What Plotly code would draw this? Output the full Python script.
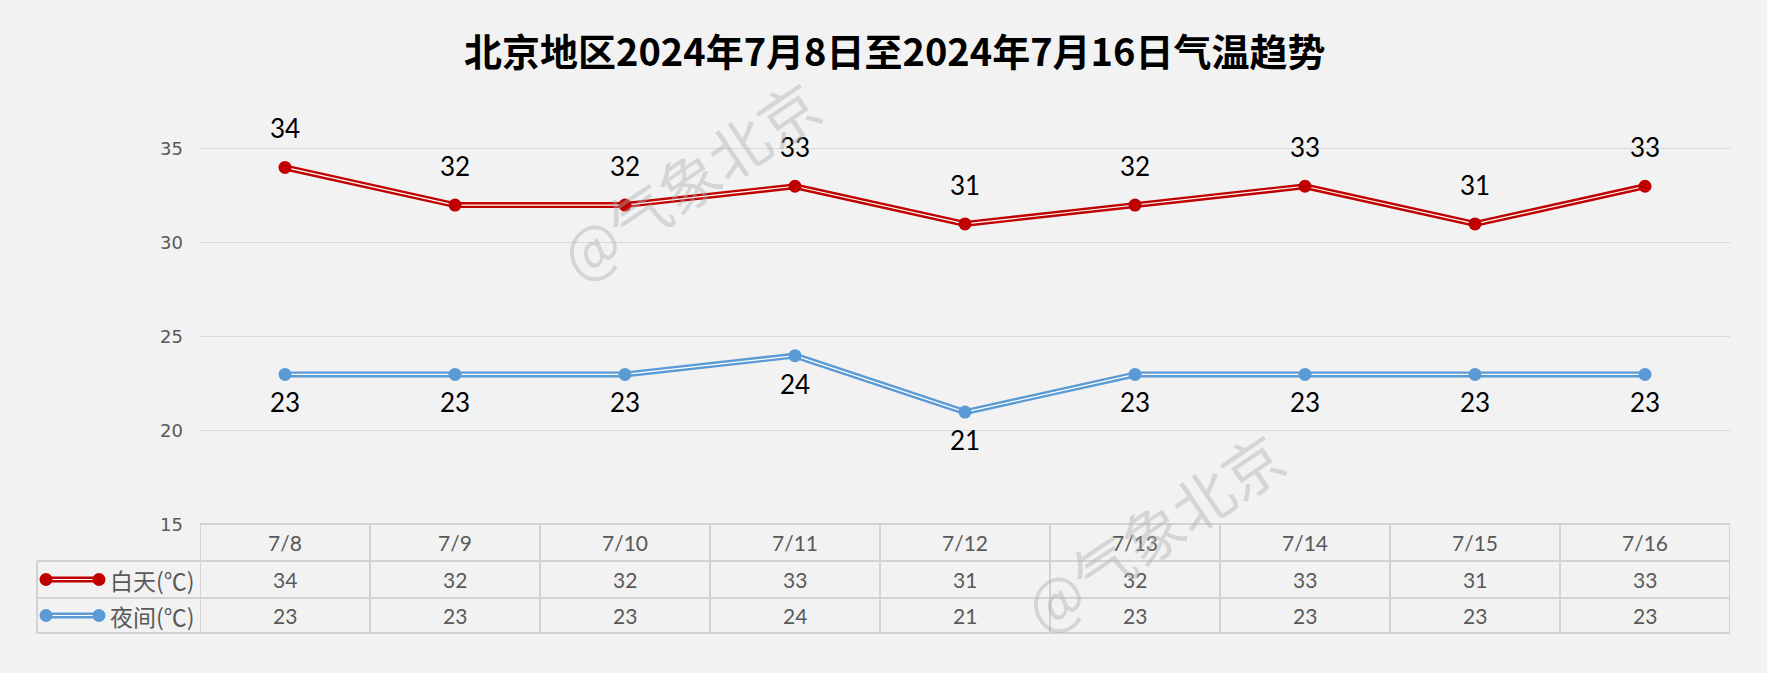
import plotly.graph_objects as go

categories = ["7/8", "7/9", "7/10", "7/11", "7/12", "7/13", "7/14", "7/15", "7/16"]
day_temps = [34, 32, 32, 33, 31, 32, 33, 31, 33]
night_temps = [23, 23, 23, 24, 21, 23, 23, 23, 23]
series_names = ["白天(℃)", "夜间(℃)"]
y_ticks = [15, 20, 25, 30, 35]
title_text = "北京地区2024年7月8日至2024年7月16日气温趋势"
watermark = "@气象北京"

RED = "#C00000"
BLUE = "#5B9BD5"
GRID = "#D9D9D9"
TBL = "#D3D3D3"
TXT = "#595959"
BG = "#F2F2F2"

W, H = 1767, 673
ML, MR, MT, MB = 200, 37, 111, 148
PW = W - ML - MR
PH = H - MT - MB

def px_x(p):
    return (p - ML) / PW

def px_y(p):
    return (H - MB - p) / PH

xs = list(range(len(categories)))
fig = go.Figure()

for vals, col in [(day_temps, RED), (night_temps, BLUE)]:
    fig.add_trace(go.Scatter(x=xs, y=vals, mode="lines",
                             line=dict(color=col, width=6), hoverinfo="skip", showlegend=False))
    fig.add_trace(go.Scatter(x=xs, y=vals, mode="lines",
                             line=dict(color="white", width=1.2), hoverinfo="skip", showlegend=False))
    fig.add_trace(go.Scatter(x=xs, y=vals, mode="markers",
                             marker=dict(color=col, size=13), showlegend=False))

ann = []
lfont = dict(size=26, color="black", family="Lato, Noto Sans CJK SC")
for i, v in enumerate(day_temps):
    ann.append(dict(x=i, y=v, xref="x", yref="y", text=str(v), showarrow=False,
                    yshift=39, yanchor="middle", font=lfont))
for i, v in enumerate(night_temps):
    ann.append(dict(x=i, y=v, xref="x", yref="y", text=str(v), showarrow=False,
                    yshift=-28, yanchor="middle", font=lfont))

# table rows (pixel positions)
row_top, row1, row2, row_bot = 524, 561, 598, 633
row_centers = [(row_top + row1) / 2, (row1 + row2) / 2, (row2 + row_bot) / 2]
tfont = dict(size=21, color=TXT, family="Lato, Noto Sans CJK SC")
for i, c in enumerate(categories):
    ann.append(dict(x=i, y=px_y(row_centers[0]), xref="x", yref="paper", text=c, showarrow=False,
                    yanchor="middle", font=tfont))
    ann.append(dict(x=i, y=px_y(row_centers[1]), xref="x", yref="paper", text=str(day_temps[i]), showarrow=False,
                    yanchor="middle", font=tfont))
    ann.append(dict(x=i, y=px_y(row_centers[2]), xref="x", yref="paper", text=str(night_temps[i]), showarrow=False,
                    yanchor="middle", font=tfont))

for k, name in enumerate(series_names):
    ann.append(dict(x=px_x(197), y=px_y(row_centers[k + 1]), xref="paper", yref="paper", text=name,
                    showarrow=False, xanchor="right", yanchor="middle",
                    font=dict(size=23, color=TXT, family="Noto Sans CJK SC")))

# watermarks
for (cx, cy) in [(688, 178), (1152, 530)]:
    ann.append(dict(x=px_x(cx), y=px_y(cy), xref="paper", yref="paper", text=watermark, showarrow=False,
                    textangle=-34, xanchor="center", yanchor="middle",
                    font=dict(size=60, color="rgba(175,175,175,0.42)", family="Noto Sans CJK SC")))

ann.append(dict(x=px_x(894), y=px_y(49), xref="paper", yref="paper", text="<b>" + title_text + "</b>",
                showarrow=False, xanchor="center", yanchor="middle",
                font=dict(size=38, color="black", family="Noto Sans CJK SC")))

shapes = []
# horizontal table lines
shapes.append(dict(type="line", xref="paper", yref="paper", x0=0, x1=1, y0=px_y(row_top), y1=px_y(row_top),
                   line=dict(color=TBL, width=2)))
for r in [row1, row2, row_bot]:
    shapes.append(dict(type="line", xref="paper", yref="paper", x0=px_x(37), x1=1, y0=px_y(r), y1=px_y(r),
                       line=dict(color=TBL, width=2)))
# vertical table lines
for i in range(len(categories) + 1):
    shapes.append(dict(type="line", xref="x", yref="paper", x0=i - 0.5, x1=i - 0.5,
                       y0=px_y(row_top), y1=px_y(row_bot), line=dict(color=TBL, width=2)))
shapes.append(dict(type="line", xref="paper", yref="paper", x0=px_x(37), x1=px_x(37),
                   y0=px_y(row1), y1=px_y(row_bot), line=dict(color=TBL, width=2)))

# legend samples
for k, col in enumerate([RED, BLUE]):
    yc = px_y(row_centers[k + 1])
    shapes.append(dict(type="line", xref="paper", yref="paper", x0=px_x(46), x1=px_x(99), y0=yc, y1=yc,
                       line=dict(color=col, width=6)))
    shapes.append(dict(type="line", xref="paper", yref="paper", x0=px_x(46), x1=px_x(99), y0=yc, y1=yc,
                       line=dict(color="white", width=1.2)))
    for xp in [46, 99]:
        shapes.append(dict(type="circle", xref="paper", yref="paper", xsizemode="pixel", ysizemode="pixel",
                           xanchor=px_x(xp), yanchor=yc, x0=-6.5, x1=6.5, y0=-6.5, y1=6.5,
                           fillcolor=col, line=dict(color=col, width=0)))

fig.update_layout(
    width=W, height=H,
    margin=dict(l=ML, r=MR, t=MT, b=MB, autoexpand=False),
    paper_bgcolor=BG, plot_bgcolor=BG,
    annotations=ann, shapes=shapes,
    showlegend=False,
    xaxis=dict(range=[-0.5, len(categories) - 0.5], showticklabels=False, showgrid=False,
               zeroline=False, showline=False, fixedrange=True),
    yaxis=dict(range=[15, 37], tickvals=y_ticks, showgrid=True, gridcolor=GRID, gridwidth=1.3,
               zeroline=False, showline=False, ticks="", ticklabelstandoff=16,
               tickfont=dict(size=18, color=TXT, family="DejaVu Sans"), fixedrange=True),
)

fig.write_html("out.html", config={"displayModeBar": False},
               post_script="document.body.style.margin='0';document.body.style.padding='0';"
                           "document.body.style.background='#F2F2F2';document.body.style.overflow='hidden';")
